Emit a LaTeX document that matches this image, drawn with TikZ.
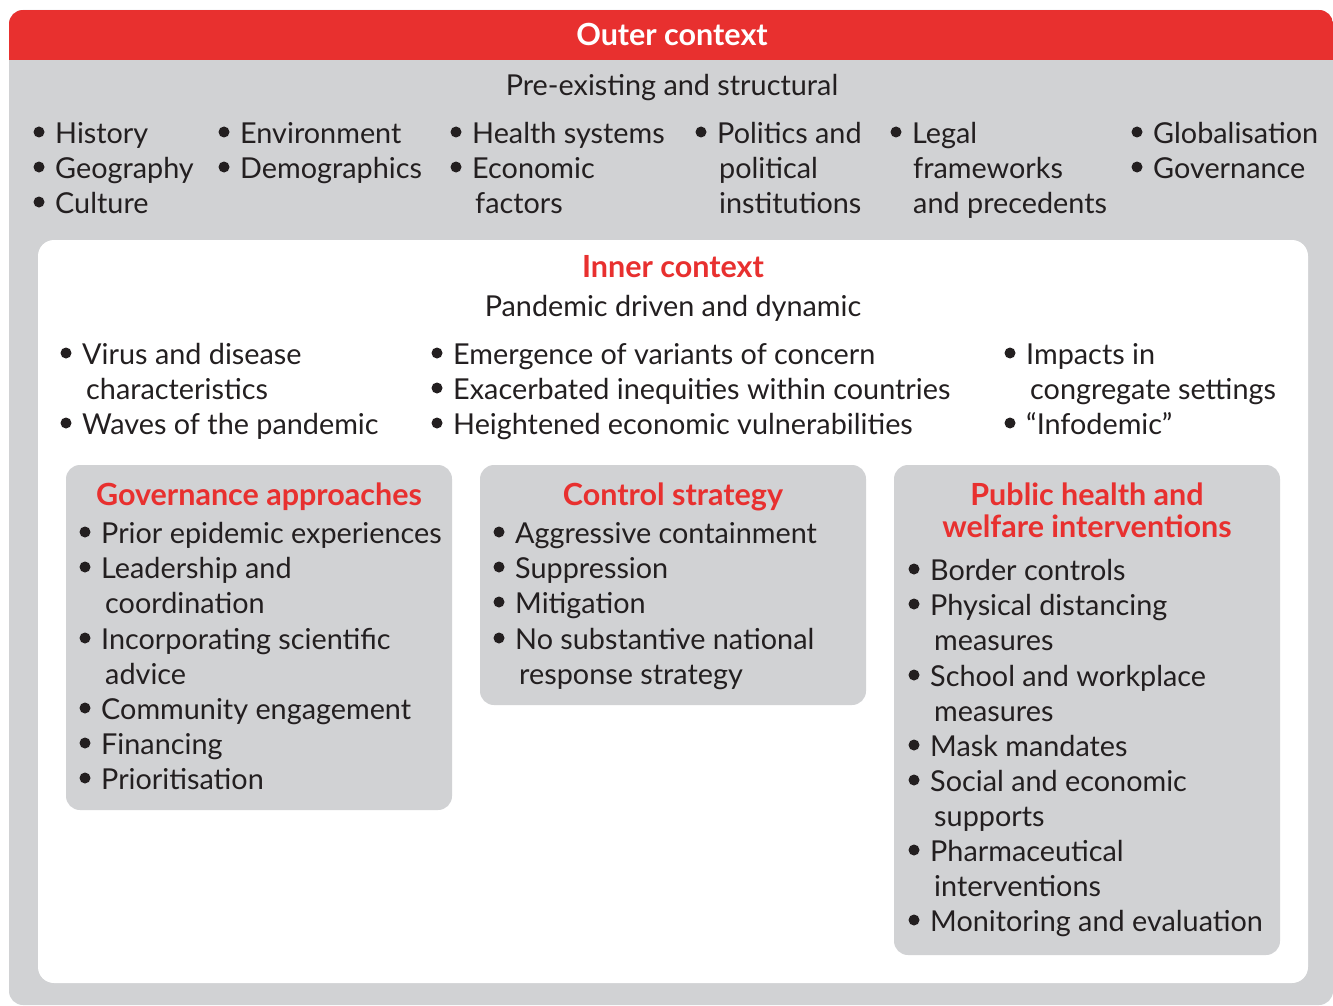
\documentclass[tikz,border=0pt]{standalone}
\usepackage{fontspec}
\setmainfont{Lato}
\definecolor{bmjred}{RGB}{232,48,47}
\definecolor{bmjgrey}{RGB}{209,210,212}
\definecolor{ink}{RGB}{35,31,32}
\newcommand{\itm}[4]{%
  \fill[ink] (#2-16,#3-1) circle (5.5);
  \node[txt] (#1) at (#2,#3) {#4};}
\newcommand{\cnt}[4]{\node[txt] (#1) at (#2,#3) {#4};}
\begin{document}
\begin{tikzpicture}[x=1pt,y=-1pt,
  txt/.style={anchor=west,inner sep=0pt,text height=20.5pt,text depth=0pt,text=ink,font=\fontsize{28.8}{33}\selectfont},
  ctr/.style={txt,anchor=center},
  head/.style={anchor=center,inner sep=0pt,text height=21pt,text depth=0pt,text=bmjred,font=\fontsize{30.5}{35}\selectfont\bfseries},
  panel/.style={fill=bmjgrey,rounded corners=14},
]
\useasboundingbox (0,0) rectangle (1333,1006);
% outer
\fill[bmjgrey,rounded corners=14] (9,10) rectangle (1333,1005);
\begin{scope}
\clip[rounded corners=14] (9,10) rectangle (1333,1005);
\fill[bmjred] (9,10) rectangle (1333,60);
\end{scope}
\node[head,text=white] (outer) at (672,35) {Outer context};
\node[ctr] (pre) at (672,85) {Pre-existing and structural};
\itm{o1}{55}{133}{History}
\itm{o2}{55}{168}{Geography}
\itm{o3}{55}{203}{Culture}
\itm{o4}{240}{133}{Environment}
\itm{o5}{240}{168}{Demographics}
\itm{o6}{472}{133}{Health systems}
\itm{o7}{472}{168}{Economic}
\cnt{o7b}{475}{203}{factors}
\itm{o8}{717}{133}{Politics and}
\cnt{o8b}{719}{168}{political}
\cnt{o8c}{719}{203}{institutions}
\itm{o9}{912}{133}{Legal}
\cnt{o9b}{913}{168}{frameworks}
\cnt{o9c}{913}{203}{and precedents}
\itm{o10}{1153}{133}{Globalisation}
\itm{o11}{1153}{168}{Governance}
% inner
\fill[white,rounded corners=16] (38,240) rectangle (1308,983);
\node[head] (inner) at (673,267) {Inner context};
\node[ctr] (pand) at (673,306) {Pandemic driven and dynamic};
\itm{i1}{82}{354}{Virus and disease}
\cnt{i1b}{86}{389}{characteristics}
\itm{i2}{82}{424}{Waves of the pandemic}
\itm{i3}{453}{354}{Emergence of variants of concern}
\itm{i4}{453}{389}{Exacerbated inequities within countries}
\itm{i5}{453}{424}{Heightened economic vulnerabilities}
\itm{i6}{1026}{354}{Impacts in}
\cnt{i6b}{1030}{389}{congregate settings}
\itm{i7}{1026}{424}{“Infodemic”}
% panels
\fill[panel] (66,465) rectangle (452,810);
\fill[panel] (480,465) rectangle (866,705);
\fill[panel] (894,465) rectangle (1280,955);
\node[head] (gov) at (259,495) {Governance approaches};
\itm{g1}{101}{533}{Prior epidemic experiences}
\itm{g2}{101}{568}{Leadership and}
\cnt{g2b}{105}{603}{coordination}
\itm{g3}{101}{639}{Incorporating scientific}
\cnt{g3b}{105}{674}{advice}
\itm{g4}{101}{709}{Community engagement}
\itm{g5}{101}{744}{Financing}
\itm{g6}{101}{779}{Prioritisation}
\node[head] (ctl) at (673,495) {Control strategy};
\itm{c1}{515}{533}{Aggressive containment}
\itm{c2}{515}{568}{Suppression}
\itm{c3}{515}{603}{Mitigation}
\itm{c4}{515}{639}{No substantive national}
\cnt{c4b}{519}{674}{response strategy}
\node[head] (ph1) at (1087,495) {Public health and};
\node[head] (ph2) at (1087,527) {welfare interventions};
\itm{p1}{930}{570}{Border controls}
\itm{p2}{930}{605}{Physical distancing}
\cnt{p2b}{934}{640}{measures}
\itm{p3}{930}{676}{School and workplace}
\cnt{p3b}{934}{711}{measures}
\itm{p4}{930}{746}{Mask mandates}
\itm{p5}{930}{781}{Social and economic}
\cnt{p5b}{934}{816}{supports}
\itm{p6}{930}{851}{Pharmaceutical}
\cnt{p6b}{934}{886}{interventions}
\itm{p7}{930}{921}{Monitoring and evaluation}
\end{tikzpicture}
\end{document}
